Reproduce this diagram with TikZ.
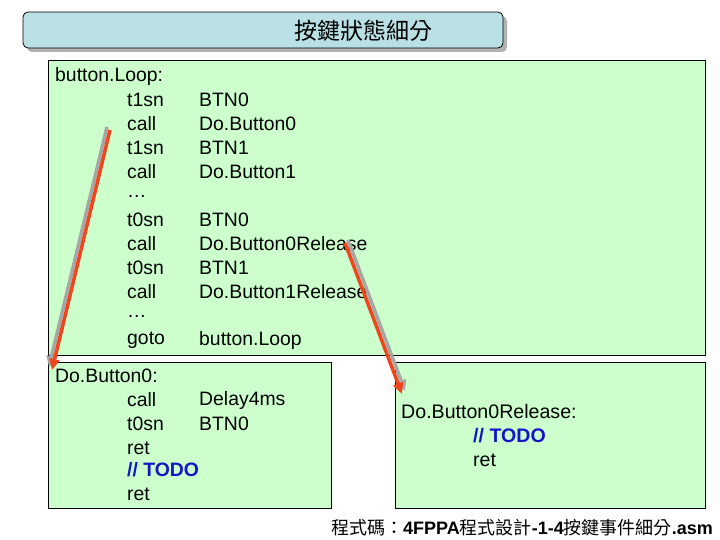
\documentclass[tikz,border=0pt]{standalone}
\usepackage{fontspec}
\setmainfont{Liberation Sans}
\newfontfamily\cjk{Noto Sans CJK TC}
\usetikzlibrary{arrows.meta}
\definecolor{boxg}{RGB}{204,255,204}
\definecolor{titleb}{RGB}{185,224,228}
\definecolor{arr}{RGB}{240,70,30}
\definecolor{todo}{RGB}{20,20,200}
\begin{document}
\begin{tikzpicture}[x=1pt,y=-1pt,
  t/.style={anchor=west,inner sep=0pt,font=\fontsize{19.4}{21}\selectfont},
  gbox/.style={draw=black,fill=boxg,line width=0.8pt},
  arrw/.style={draw=arr,line width=3.5pt,-{Triangle[length=11pt,width=10pt]}},
  arrs/.style={draw=gray!70,line width=3.5pt,-{Triangle[length=11pt,width=10pt]}}]
\useasboundingbox (0,0) rectangle (720,540);
% title
\fill[gray!60,rounded corners=5pt] (27,16) rectangle (507,52);
\draw[fill=titleb,rounded corners=5pt,line width=0.8pt] (23,12) rectangle (503,48);
\node[font=\cjk\fontsize{23}{24}\selectfont,inner sep=0pt] (title) at (363,31) {按鍵狀態細分};
% boxes
\draw[gbox] (48,60) rectangle (705,355);
\draw[gbox] (48,362) rectangle (331,508);
\draw[gbox] (395,362) rectangle (705,508);
% main text
\node[t] (l0) at (55,76) {button.Loop:};
\foreach \y/\a/\b in {100/t1sn/BTN0,124/call/Do.Button0,148/t1sn/BTN1,172/call/Do.Button1,196/…/,220/t0sn/BTN0,244/call/Do.Button0Release,268/t0sn/BTN1,292/call/Do.Button1Release,316/…/,340/goto/button.Loop}{
  \node[t] at (127,\y) {\a};
  \node[t] at (199,\y) {\b};
}
\node[t] (d0) at (55,376) {Do.Button0:};
\node[t] at (127,400) {call};
\node[t] at (199,400) {Delay4ms};
\node[t] at (127,424) {t0sn};
\node[t] at (199,424) {BTN0};
\node[t] at (127,448) {ret};
\node[t,text=todo,font=\bfseries\fontsize{19.4}{21}\selectfont] at (127,470) {// TODO};
\node[t] at (127,494) {ret};
\node[t,font=\fontsize{19.6}{21}\selectfont] (r0) at (401,411) {Do.Button0Release:};
\node[t,text=todo,font=\bfseries\fontsize{19.6}{21}\selectfont] at (473,436) {// TODO};
\node[t,font=\fontsize{19.6}{21}\selectfont] at (473,460) {ret};
% arrows
\coordinate (a1s) at (110,130); \coordinate (a1e) at (52,370);
\coordinate (a2s) at (345,243); \coordinate (a2e) at (402,394);
\draw[arrs] ([xshift=-3pt,yshift=3pt]a1s) -- ([xshift=-3pt,yshift=3pt]a1e);
\draw[arrw] (a1s) -- (a1e);
\draw[arrs] ([xshift=3pt,yshift=3pt]a2s) -- ([xshift=3pt,yshift=3pt]a2e);
\draw[arrw] (a2s) -- (a2e);
% footer
\node[anchor=east,inner sep=0pt,font=\fontsize{18}{20}\selectfont] (foot) at (713,528) {{\cjk 程式碼：}\textbf{4FPPA}{\cjk 程式設計}\textbf{-1-4}{\cjk 按鍵事件細分}\textbf{.asm}};
\end{tikzpicture}
\end{document}
